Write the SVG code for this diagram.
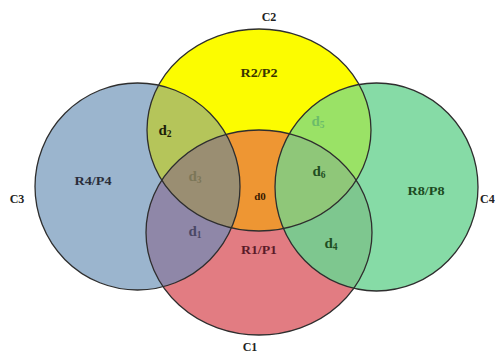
<svg xmlns="http://www.w3.org/2000/svg" width="495" height="353" viewBox="0 0 495 353">
  <style>
    .edge { fill: none; stroke: #2e2e2e; stroke-width: 1.3; }
    .lbl { font-family: "Liberation Serif", "Times New Roman", serif; font-weight: bold; font-size: 12px; text-anchor: middle; }
    .set { font-family: "Liberation Serif", "Times New Roman", serif; font-weight: bold; font-size: 12px; text-anchor: middle; fill: #222; }
    .d { font-family: "Liberation Serif", "Times New Roman", serif; font-weight: bold; font-size: 15px; text-anchor: middle; }
    .sub { font-size: 9.5px; }
  </style>
  <defs>
    <ellipse id="eB" cx="137.5" cy="186.5" rx="102.5" ry="103.5"/>
    <ellipse id="eG" cx="376.5" cy="187" rx="101.5" ry="104"/>
    <ellipse id="eP" cx="259" cy="232.5" rx="113" ry="102.5"/>
    <ellipse id="eY" cx="259" cy="130" rx="112" ry="101"/>
    <clipPath id="cB"><use href="#eB"/></clipPath>
    <clipPath id="cG"><use href="#eG"/></clipPath>
    <clipPath id="cP"><use href="#eP"/></clipPath>
    <clipPath id="cY"><use href="#eY"/></clipPath>
  </defs>

  <rect width="495" height="353" fill="#ffffff"/>

  <!-- base fills of the four sets -->
  <g id="fills">
    <use href="#eB" fill="#9bb5ce"/>
    <use href="#eG" fill="#86dba6"/>
    <use href="#eP" fill="#e27c82"/>
    <use href="#eY" fill="#fcfc00"/>
    <!-- pairwise overlaps -->
    <use href="#eP" fill="#ee9633" clip-path="url(#cY)"/>
    <use href="#eB" fill="#b5c55a" clip-path="url(#cY)"/>
    <use href="#eB" fill="#8f87a8" clip-path="url(#cP)"/>
    <use href="#eG" fill="#9ae266" clip-path="url(#cY)"/>
    <use href="#eG" fill="#7ec78f" clip-path="url(#cP)"/>
    <!-- triple overlaps -->
    <g clip-path="url(#cY)"><use href="#eB" fill="#9a8e72" clip-path="url(#cP)"/></g>
    <g clip-path="url(#cY)"><use href="#eG" fill="#8fc779" clip-path="url(#cP)"/></g>
  </g>

  <!-- set C3 -->
  <g id="C3">
    <use href="#eB" class="edge"/>
    <text class="lbl" x="93" y="185" fill="#2a2d3a" textLength="37" lengthAdjust="spacingAndGlyphs">R4/P4</text>
    <text class="set" x="17" y="203">C3</text>
  </g>
  <!-- set C4 -->
  <g id="C4">
    <use href="#eG" class="edge"/>
    <text class="lbl" x="426" y="195" fill="#1c4a22" textLength="37" lengthAdjust="spacingAndGlyphs">R8/P8</text>
    <text class="set" x="480" y="203" style="text-anchor:start">C4</text>
  </g>
  <!-- set C1 -->
  <g id="C1">
    <use href="#eP" class="edge"/>
    <text class="lbl" x="259" y="254" fill="#5a1a28" textLength="36" lengthAdjust="spacingAndGlyphs">R1/P1</text>
    <text class="set" x="250" y="351">C1</text>
  </g>
  <!-- set C2 -->
  <g id="C2">
    <use href="#eY" class="edge"/>
    <text class="lbl" x="259" y="77" fill="#3a3400" textLength="37" lengthAdjust="spacingAndGlyphs">R2/P2</text>
    <text class="set" x="269" y="21">C2</text>
  </g>

  <!-- region labels -->
  <g id="regions">
    <text class="d" x="165" y="135" fill="#1b1d08">d<tspan class="sub" dy="2">2</tspan></text>
    <text class="d" x="195" y="181" fill="#7c7658">d<tspan class="sub" dy="2">3</tspan></text>
    <text class="d" x="195" y="236" fill="#4a4866">d<tspan class="sub" dy="2">1</tspan></text>
    <text class="d" x="260" y="200" fill="#3a1a00" style="font-size:11px">d0</text>
    <text class="d" x="318" y="126" fill="#6cbc6a">d<tspan class="sub" dy="2">5</tspan></text>
    <text class="d" x="319" y="176" fill="#1f4d22">d<tspan class="sub" dy="2">6</tspan></text>
    <text class="d" x="331" y="248" fill="#1f4d22">d<tspan class="sub" dy="2">4</tspan></text>
  </g>
</svg>
